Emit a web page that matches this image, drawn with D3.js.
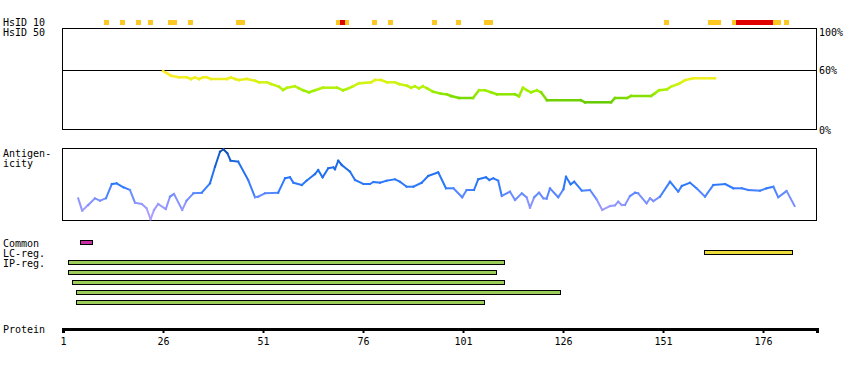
<!DOCTYPE html>
<html>
<head>
<meta charset="utf-8">
<script src="https://cdn.jsdelivr.net/npm/d3@7"></script>
<style>
  body { margin: 0; background: #fff; }
  svg text { font-family: "DejaVu Sans Mono", monospace; font-size: 10px; fill: #000; }
</style>
</head>
<body>
<svg class="chart" width="850" height="370"></svg>
<script>
// protein length and axis ticks
var proteinLength = 189.5;
var residueTicks = [1, 26, 51, 76, 101, 126, 151, 176];

// HsID 10 hits
var hsid10Yellow = [11, 15, 19, 22, 27, 28, 32, 44, 45, 69, 71, 78, 82, 93, 99, 106, 107, 151, 162, 163, 164, 168, 178, 179, 181];
var hsid10Red = [70, 169, 170, 171, 172, 173, 174, 175, 176, 177];

// identity (%) along the sequence
var identityPos = [26, 27, 28, 30, 32, 33, 34, 35, 36, 37, 38, 42, 43, 44, 45, 47, 49, 50, 52, 53, 55, 56, 57, 59, 60, 61, 62.5, 64, 65, 66, 69.5, 71, 72, 73.5, 75, 78, 79, 80.5, 82, 84, 85, 87, 88, 89, 90, 91, 92, 93.5, 95.5, 97, 98, 100, 103.5, 105, 106.5, 108, 109.5, 114, 115, 116, 117, 118, 119.5, 120.5, 122, 130.5, 131.5, 138, 139, 142, 143, 148, 149, 150, 152, 153, 155, 156.5, 158.5, 164];
var identityPct = [59, 56.7, 54.3, 52.7, 52.7, 51, 52.7, 51, 52.7, 52.7, 51, 51, 52.7, 51, 50, 51, 49.3, 47.7, 47.7, 46, 43.3, 40, 42.3, 43.7, 41.7, 39.7, 37.7, 39.7, 41, 42.3, 42.3, 39.7, 41, 43.7, 46.7, 47.7, 50, 50, 47.7, 47.7, 46, 44.3, 42.3, 43.7, 41.7, 43.7, 41.7, 38.3, 36.3, 35.7, 34, 32, 32, 39.7, 39.7, 37.7, 35.7, 35.7, 33.7, 42.3, 39.7, 37.7, 39.7, 37.7, 29.7, 29.7, 27.7, 27.7, 32, 32, 34, 34, 36.7, 39.7, 40.7, 43.3, 46.3, 49.7, 51.7, 51.7];

// antigenicity (scaled units, 0-72)
var antigenPos = [4.8, 5.8, 7.3, 9, 10.25, 11.75, 13.2, 14.4, 16.1, 17.75, 19, 20.7, 21.9, 22.9, 23.75, 24.8, 26.7, 27.75, 28.75, 30.8, 31.9, 33.6, 35.7, 37.75, 39, 40.25, 41.1, 42.1, 42.9, 44.8, 47.3, 49, 49.8, 51.5, 54.8, 56.5, 57.75, 58.6, 60.7, 61.9, 64, 64.8, 65.9, 67.3, 68.6, 69, 69.8, 70.7, 72.75, 74, 76.1, 77.75, 78.6, 80.25, 81.9, 84, 85.25, 86.9, 88.6, 90.7, 92.3, 94.8, 96.75, 98.6, 100.8, 101.9, 103.75, 104.8, 106.75, 107.6, 108.6, 109.8, 110.7, 112.75, 114, 115.7, 116.9, 117.75, 118.8, 120, 121.1, 121.9, 122.75, 124.8, 126.1, 126.75, 127.9, 128.8, 130.7, 132.75, 134.4, 135.8, 137.75, 139, 139.8, 140.7, 141.5, 142.75, 144, 144.8, 146.9, 147.75, 148.6, 150.25, 152.75, 154.8, 155.7, 157.75, 159.4, 161.5, 163.6, 166.5, 168.6, 170.7, 172.3, 175.25, 176.9, 178.6, 179.8, 181.9, 183.9];
var antigenVal = [21.7, 9.3, 15, 21.7, 19.3, 21.7, 36, 36.7, 32.7, 30, 17.3, 16, 11.7, 0.7, 10, 16, 11, 23.3, 26, 10, 19.3, 26.7, 27.3, 36.7, 53.3, 68.3, 70.7, 66.7, 59.3, 58.3, 40, 22.7, 23.3, 26.7, 27.3, 41.7, 42.7, 37.3, 35, 39.3, 46, 50, 42.7, 51.7, 52.7, 50.7, 59.3, 55, 48.3, 40, 36, 36, 38, 37.3, 39.3, 40.7, 38.3, 33.3, 33.3, 37.3, 44, 47.7, 31.7, 31.7, 22.7, 30, 30, 40.7, 42.7, 40, 41.7, 39.3, 24, 28.3, 20, 26.7, 22.7, 12.3, 22.7, 27.3, 21.7, 21.3, 31.7, 22.7, 30.7, 43.3, 35.7, 38.3, 29.3, 30, 20.7, 10, 14, 14.7, 18.3, 15, 15, 24, 27.3, 26.7, 16.7, 21.7, 19, 23.3, 38.3, 28.3, 34, 37.3, 31.7, 23.3, 35, 36, 31.7, 31.7, 30, 29.3, 31.7, 33.3, 22.7, 29, 14];

// regions (start, end residue)
var commonRegions = [[5, 8]];
var lcRegions = [[161, 183]];
var ipStarts = [2, 2, 3, 4, 4];
var ipEnds = [111, 109, 111, 125, 106];

var svg = d3.select(".chart");

var x = d3.scaleLinear().domain([1, proteinLength]).range([63, 817]);
var yId = d3.scaleLinear().domain([0, 100]).range([130, 30]);
var yAg = d3.scaleLinear().domain([0, 72]).range([220, 148]);

var idColor = d3.scaleLinear().domain([28, 38, 46, 53]).range(["#66cc00", "#99ee00", "#ccf410", "#f5ee22"]);
var agColor = d3.scaleLinear().domain([0, 14, 24, 33, 55, 72]).range(["#b8a4ff", "#9898ff", "#6a8cff", "#2f7bff", "#1a6ae8", "#0b4aa8"]);

function label(txt, lx, ly) {
    svg.append("text").attr("x", lx).attr("y", ly).text(txt);
}

// left labels
label("HsID 10", 3, 26);
label("HsID 50", 3, 36);
label("Antigen-", 3, 157);
label("icity", 3, 167);
label("Common", 3, 247);
label("LC-reg.", 3, 257);
label("IP-reg.", 3, 267);
label("Protein", 3, 333);

// HsID 10 squares
function squares(list, color) {
    svg.append("g").selectAll("rect")
        .data(list)
        .enter().append("rect")
        .attr("x", function (d) { return x(d) + 1; })
        .attr("y", 20)
        .attr("width", 5)
        .attr("height", 5)
        .attr("shape-rendering", "crispEdges")
        .style("fill", color);
}
squares(hsid10Yellow, "#fdc823");
squares(hsid10Red, "#e00000");

// identity box
svg.append("rect")
    .attr("x", 62.5).attr("y", 28.5).attr("width", 754).attr("height", 101)
    .attr("shape-rendering", "crispEdges")
    .style("fill", "none").style("stroke", "#000");
svg.append("line")
    .attr("x1", 62).attr("x2", 817)
    .attr("y1", yId(60) + 0.5).attr("y2", yId(60) + 0.5)
    .style("stroke", "#000");
label("100%", 819, 36);
label("60%", 819, 74);
label("0%", 819, 134);

var idPts = identityPos.map(function (p, i) { return [p, identityPct[i]]; });
svg.append("g").selectAll("line")
    .data(d3.pairs(idPts))
    .enter().append("line")
    .attr("x1", function (d) { return x(d[0][0]); })
    .attr("y1", function (d) { return yId(d[0][1]); })
    .attr("x2", function (d) { return x(d[1][0]); })
    .attr("y2", function (d) { return yId(d[1][1]); })
    .attr("stroke-linecap", "square")
    .style("stroke-width", 2.5)
    .style("stroke", function (d) { return idColor((d[0][1] + d[1][1]) / 2); });

// antigenicity box
svg.append("rect")
    .attr("x", 62.5).attr("y", 148.5).attr("width", 754).attr("height", 71.5)
    .attr("shape-rendering", "crispEdges")
    .style("fill", "none").style("stroke", "#000");

var agPts = antigenPos.map(function (p, i) { return [p, antigenVal[i]]; });
svg.append("g").selectAll("line")
    .data(d3.pairs(agPts))
    .enter().append("line")
    .attr("x1", function (d) { return x(d[0][0]); })
    .attr("y1", function (d) { return yAg(d[0][1]); })
    .attr("x2", function (d) { return x(d[1][0]); })
    .attr("y2", function (d) { return yAg(d[1][1]); })
    .attr("stroke-linecap", "square")
    .style("stroke-width", 2)
    .style("stroke", function (d) { return agColor((d[0][1] + d[1][1]) / 2); });

// region bars
function bars(regions, row0, color) {
    svg.append("g").selectAll("rect")
        .data(regions)
        .enter().append("rect")
        .attr("x", function (d) { return x(d[0]) + 1.5; })
        .attr("y", function (d, i) { return 240.5 + (row0 + i) * 10; })
        .attr("width", function (d) { return x(d[1]) - x(d[0]); })
        .attr("height", 4)
        .attr("shape-rendering", "crispEdges")
        .style("fill", color)
        .style("stroke", "#000");
}
bars(commonRegions, 0, "#c62ea6");
bars(lcRegions, 1, "#ecdc3a");
bars(ipStarts.map(function (s, i) { return [s, ipEnds[i]]; }), 2, "#9ccc5a");

// protein axis
var axis = d3.axisBottom(x).tickValues(residueTicks).tickSize(4).tickSizeOuter(4).tickPadding(5);
var ag = svg.append("g").attr("transform", "translate(0,329)").call(axis);
ag.select(".domain").style("stroke-width", 3);
ag.selectAll(".tick line").style("stroke-width", 2);
ag.selectAll("text")
    .style("font-family", "DejaVu Sans Mono, monospace")
    .style("font-size", "10px");
</script>
</body>
</html>
